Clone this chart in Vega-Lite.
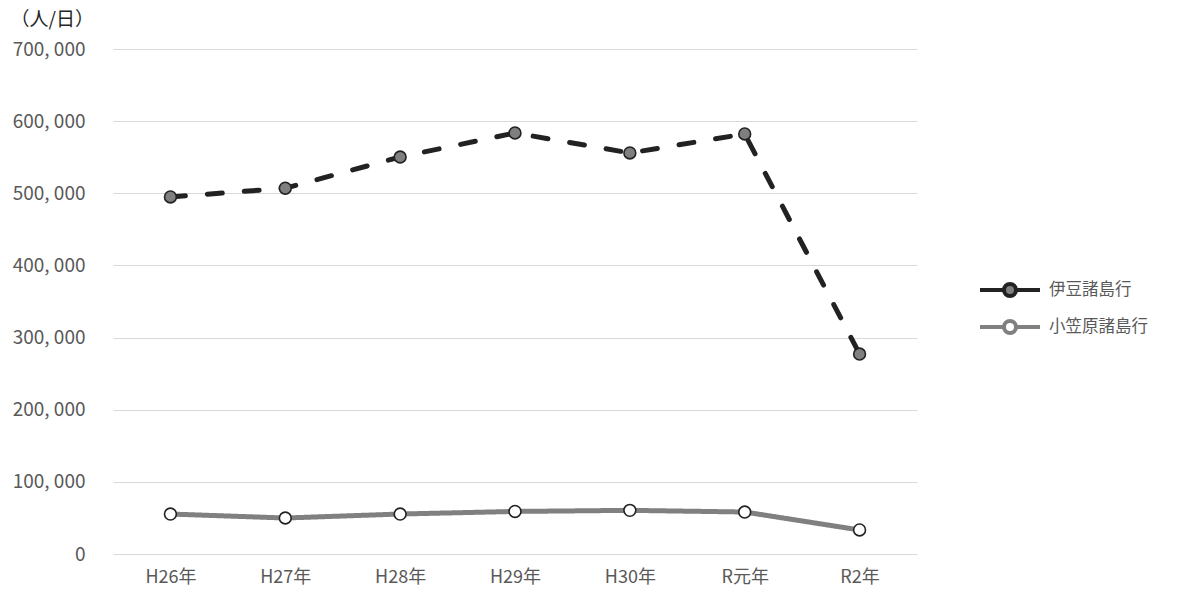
{
  "$schema": "https://vega.github.io/schema/vega-lite/v6.json",
  "width": 804,
  "height": 505,
  "autosize": "none",
  "padding": {"left": 113, "top": 49, "right": 269, "bottom": 43},
  "background": "white",
  "config": {
    "font": "Noto Sans CJK JP",
    "view": {"stroke": null}
  },
  "data": {
    "values": [
      {"series": "伊豆諸島行", "year": "H26年", "value": 494900},
      {"series": "伊豆諸島行", "year": "H27年", "value": 507000},
      {"series": "伊豆諸島行", "year": "H28年", "value": 550300},
      {"series": "伊豆諸島行", "year": "H29年", "value": 583600},
      {"series": "伊豆諸島行", "year": "H30年", "value": 555900},
      {"series": "伊豆諸島行", "year": "R元年", "value": 582200},
      {"series": "伊豆諸島行", "year": "R2年", "value": 277200},
      {"series": "小笠原諸島行", "year": "H26年", "value": 55400},
      {"series": "小笠原諸島行", "year": "H27年", "value": 49900},
      {"series": "小笠原諸島行", "year": "H28年", "value": 55400},
      {"series": "小笠原諸島行", "year": "H29年", "value": 59000},
      {"series": "小笠原諸島行", "year": "H30年", "value": 60500},
      {"series": "小笠原諸島行", "year": "R元年", "value": 58200},
      {"series": "小笠原諸島行", "year": "R2年", "value": 33300}
    ]
  },
  "encoding": {
    "x": {
      "field": "year",
      "type": "ordinal",
      "sort": ["H26年", "H27年", "H28年", "H29年", "H30年", "R元年", "R2年"],
      "scale": {"type": "point", "padding": 0.5},
      "axis": {
        "title": null,
        "domain": false,
        "ticks": false,
        "grid": false,
        "labelAngle": 0,
        "labelFontSize": 18,
        "labelColor": "#595959",
        "labelPadding": 14
      }
    },
    "y": {
      "field": "value",
      "type": "quantitative",
      "scale": {"domain": [0, 700000], "nice": false},
      "axis": {
        "values": [0, 100000, 200000, 300000, 400000, 500000, 600000, 700000],
        "labelExpr": "replace(format(datum.value, ','), ',', ', ')",
        "domain": false,
        "ticks": false,
        "gridColor": "#d9d9d9",
        "gridWidth": 1.2,
        "labelFontSize": 19,
        "labelColor": "#595959",
        "labelPadding": 28,
        "title": "（人/日）",
        "titleAngle": 0,
        "titleAlign": "left",
        "titleBaseline": "top",
        "titleX": -103,
        "titleY": -39,
        "titleFontSize": 19,
        "titleFontWeight": "normal",
        "titleColor": "#262626"
      }
    }
  },
  "layer": [
    {
      "mark": {"type": "line", "strokeWidth": 5, "strokeCap": "round"},
      "encoding": {
        "color": {
          "field": "series",
          "type": "nominal",
          "scale": {"domain": ["伊豆諸島行", "小笠原諸島行"], "range": ["#222222", "#808080"]},
          "legend": {
            "orient": "none",
            "legendX": 880,
            "legendY": 224,
            "title": null,
            "labelFontSize": 16.5,
            "labelColor": "#595959",
            "labelOffset": 22,
            "symbolType": "M-2,0H-0.45M0.45,0H2M0.4,0A0.4,0.4 0 1,1 -0.4,0A0.4,0.4 0 1,1 0.4,0Z",
            "symbolSize": 900,
            "symbolStrokeWidth": 4,
            "rowPadding": 6
          }
        },
        "strokeDash": {
          "condition": {"test": "datum.series === '伊豆諸島行'", "value": [15, 22]},
          "value": [1, 0]
        }
      }
    },
    {
      "mark": {"type": "point", "shape": "circle", "filled": true, "size": 140, "stroke": "#222222", "strokeWidth": 1.6, "opacity": 1},
      "encoding": {
        "fill": {
          "field": "series",
          "type": "nominal",
          "scale": {"domain": ["伊豆諸島行", "小笠原諸島行"], "range": ["#7f7f7f", "#ffffff"]}
        }
      }
    }
  ]
}
